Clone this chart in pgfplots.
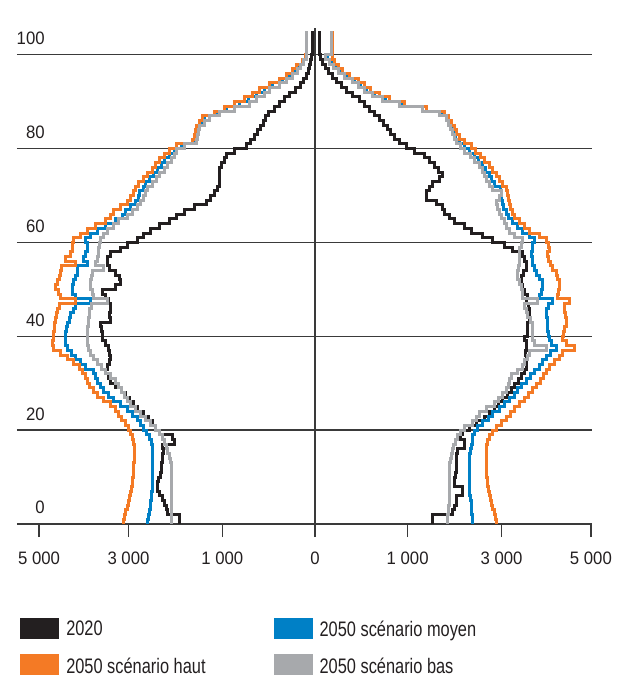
\documentclass[border=0pt]{standalone}
\usepackage{fontspec}
\setmainfont{Liberation Sans}
\newfontfamily\tickfont{Liberation Sans}[FakeStretch=0.93]
\newfontfamily\legfont{Liberation Sans}[FakeStretch=0.78]
\usepackage{pgfplots}
\usepackage{pgfplotstable}
\pgfplotsset{compat=1.18}
\definecolor{cBlack}{HTML}{231F20}
\definecolor{cOrange}{HTML}{F47A25}
\definecolor{cBlue}{HTML}{0080C6}
\definecolor{cGray}{HTML}{A7A9AC}
\definecolor{axisgray}{HTML}{3A3A3A}

% population by age; columns in pixel-offset units of the chart (1 unit = 18.12 persons)
\pgfplotstableread{
age bl br ol or ml mr gl gr
0 135 118 192 182 168 158 143 133
1 135 118 191 181 167 158 143 133
2 147 138 190 180 166 157 143 134
3 148 140 188 178 165 157 143 134
4 150 142 187 177 165 157 143 135
5 152 142 186 176 164 156 143 135
6 155 148 185 175 164 155 143 135
7 157 148 184 174 163 155 143 135
8 157 140 183 173 163 155 143 135
9 156 140 183 173 163 155 143 135
10 154 141 182 172 163 155 143 135
11 153 142 182 172 163 155 143 135
12 153 142 182 172 163 155 143 135
13 152 142 181 172 163 155 144 136
14 152 142 181 172 163 155 145 137
15 151 143 181 172 163 156 147 138
16 152 150 181 172 163 157 148 139
17 140 150 182 173 164 158 150 141
18 142 146 183 175 166 158 152 143
19 155 148 185 178 169 160 155 146
20 160 155 187 182 172 163 160 150
21 163 162 190 187 175 168 165 158
22 167 170 194 192 178 174 170 162
23 172 175 197 196 183 178 175 165
24 178 180 200 200 188 185 180 172
25 182 184 205 205 195 190 185 180
26 186 188 212 210 202 195 188 184
27 190 193 218 214 207 200 191 188
28 194 197 222 218 212 203 194 192
29 200 200 226 222 215 207 197 194
30 205 204 228 226 218 212 200 195
31 207 207 230 229 220 216 205 197
32 210 210 233 232 222 220 210 203
33 208 212 236 235 230 225 214 208
34 206 212 242 240 235 228 218 210
35 205 212 248 245 240 232 222 213
36 206 211 255 248 244 236 225 215
37 207 212 262 260 248 242 227 232
38 210 212 263 252 250 237 228 220
39 213 210 262 248 250 235 228 218
40 213 213 262 249 250 234 228 218
41 214 213 261 250 249 233 228 218
42 215 213 261 252 248 233 227 218
43 205 215 260 252 246 233 227 216
44 206 215 259 251 245 232 226 213
45 205 215 258 250 242 232 226 212
46 205 214 256 250 240 234 224 210
47 207 212 240 255 225 238 208 223
48 210 213 255 243 240 225 222 208
49 213 210 257 244 243 227 223 208
50 200 208 260 245 243 228 225 207
51 195 207 258 245 242 228 225 205
52 196 207 256 243 240 225 224 203
53 200 209 255 242 238 222 223 203
54 206 212 254 238 238 220 212 204
55 208 212 240 236 228 218 220 205
56 208 210 250 234 232 218 218 205
57 205 208 245 233 230 217 217 205
58 195 198 243 235 228 218 217 205
59 188 190 243 234 228 218 216 207
60 178 178 242 232 230 220 215 208
61 172 168 235 225 225 215 212 200
62 165 157 228 215 218 208 208 195
63 155 150 220 210 210 203 202 192
64 145 140 210 205 200 198 197 190
65 138 135 205 200 193 194 188 187
66 130 130 202 198 190 192 183 185
67 120 128 195 196 185 189 178 183
68 108 122 188 195 180 188 175 182
69 104 112 185 194 177 187 172 185
70 100 112 182 193 176 187 170 187
71 97 115 180 192 172 186 168 178
72 95 118 177 188 170 180 163 175
73 95 125 172 185 166 177 158 172
74 95 128 168 182 162 175 155 170
75 95 124 163 178 157 171 150 168
76 93 120 160 175 153 168 147 165
77 90 115 155 170 150 164 143 160
78 88 110 150 166 145 160 140 156
79 80 100 145 161 140 155 138 150
80 68 92 138 157 133 150 130 146
81 64 85 122 150 120 145 118 142
82 60 80 120 145 118 141 117 140
83 57 76 119 142 117 139 116 138
84 54 73 118 140 116 137 115 136
85 51 69 115 137 113 134 110 134
86 49 65 112 134 110 132 105 132
87 46 60 100 130 98 128 95 125
88 40 55 90 112 88 108 80 108
89 35 50 80 90 75 87 65 85
90 30 45 70 75 66 71 58 68
91 25 38 62 65 58 60 50 58
92 19 32 55 56 50 52 45 50
93 14 27 45 50 42 46 35 44
94 11 22 35 44 32 40 28 38
95 8 18 28 35 25 32 22 30
96 6 14 22 28 20 25 17 24
97 5 11 18 24 15 21 14 19
98 4 8 12 20 11 17 11 15
99 3 6 9 18 8 13 8 11
100 2 5 8 18 8 17 8 17
101 2 5 8 18 8 17 8 17
102 2 5 8 18 8 17 8 17
103 2 5 8 18 8 17 8 17
104 2 5 8 18 8 17 8 17
}\pyr

% turn one column into a vertical step outline: (v,a) (v,a+1) for each age a
\newcommand\buildsteps[3]{%
  \gdef\stepcoords{}%
  \pgfplotstablegetrowsof{\pyr}%
  \pgfmathtruncatemacro\lastrow{\pgfplotsretval-1}%
  \foreach \r in {0,...,\lastrow}{%
    \pgfplotstablegetelem{\r}{#2}\of{\pyr}%
    \pgfmathsetmacro\xv{#3*18.12*\pgfplotsretval}%
    \pgfmathtruncatemacro\yb{\r+1}%
    \xdef\stepcoords{\stepcoords (\xv,\r) (\xv,\yb)}%
  }%
  \expandafter\xdef\csname S#1\endcsname{\stepcoords}%
}

\begin{document}
\begin{tikzpicture}
\buildsteps{BL}{bl}{-1}\buildsteps{BR}{br}{1}
\buildsteps{OL}{ol}{-1}\buildsteps{OR}{or}{1}
\buildsteps{ML}{ml}{-1}\buildsteps{MR}{mr}{1}
\buildsteps{GL}{gl}{-1}\buildsteps{GR}{gr}{1}
\useasboundingbox (0,0) rectangle (308.5pt,340pt);
\begin{axis}[
  at={(8.5pt,78pt)}, anchor=south west,
  scale only axis, width=287.5pt, height=248pt,
  xmin=-5400, xmax=5020, ymin=0, ymax=105.7,
  axis x line*=bottom, axis y line*=left,
  y axis line style={draw=none},
  x axis line style={line width=0.75pt, draw=axisgray},
  xtick={-5000,-3380,-1680,0,1680,3380,5000},
  xticklabels={5~000,3~000,1~000,0,1~000,3~000,5~000},
  xtick align=outside, major tick length=6.5pt,
  x tick style={line width=0.75pt, draw=axisgray},
  xticklabel style={font=\tickfont\fontsize{9}{10}\selectfont, text=cBlack, yshift=-4pt},
  ytick={20,40,60,80,100}, yticklabels={},
  ymajorgrids, major grid style={line width=0.75pt, draw=axisgray},
  y tick style={draw=none},
  clip=false, no markers,
  every axis plot/.append style={line width=1.5pt, line join=miter},
  legend columns=2,
  legend cell align=left,
  legend image code/.code={\fill[#1] (0pt,-3.5pt) rectangle (18pt,5.5pt);},
  legend style={at={(0.005,-0.188)}, anchor=north west, draw=none, fill=none,
    inner sep=0pt, font=\legfont\fontsize{10.5}{12}\selectfont, text=cBlack,
    row sep=7.5pt, nodes={inner sep=0pt},
    /tikz/every odd column/.append style={column sep=3.5pt},
    /tikz/every even column/.append style={column sep=34pt}},
]
\addplot[axisgray, line width=0.75pt, forget plot] coordinates {(0,0) (0,105.7)};
\edef\tmp{\noexpand\addplot[cBlack] coordinates {\SBL};}\tmp
\addlegendentry{2020}
\edef\tmp{\noexpand\addplot[cBlack, forget plot] coordinates {\SBR};}\tmp
\edef\tmp{\noexpand\addplot[cBlue] coordinates {\SML};}\tmp
\addlegendentry{2050 scénario moyen}
\edef\tmp{\noexpand\addplot[cBlue, forget plot] coordinates {\SMR};}\tmp
\edef\tmp{\noexpand\addplot[cOrange] coordinates {\SOL};}\tmp
\addlegendentry{2050 scénario haut}
\edef\tmp{\noexpand\addplot[cOrange, forget plot] coordinates {\SOR};}\tmp
\edef\tmp{\noexpand\addplot[cGray] coordinates {\SGL};}\tmp
\addlegendentry{2050 scénario bas}
\edef\tmp{\noexpand\addplot[cGray, forget plot] coordinates {\SGR};}\tmp
\node[anchor=base east, inner sep=0pt, yshift=5pt, font=\tickfont\fontsize{9}{10}\selectfont, text=cBlack] at (axis cs:-4892,100) {100};
\node[anchor=base east, inner sep=0pt, yshift=5pt, font=\tickfont\fontsize{9}{10}\selectfont, text=cBlack] at (axis cs:-4892,80) {80};
\node[anchor=base east, inner sep=0pt, yshift=5pt, font=\tickfont\fontsize{9}{10}\selectfont, text=cBlack] at (axis cs:-4892,60) {60};
\node[anchor=base east, inner sep=0pt, yshift=5pt, font=\tickfont\fontsize{9}{10}\selectfont, text=cBlack] at (axis cs:-4892,40) {40};
\node[anchor=base east, inner sep=0pt, yshift=5pt, font=\tickfont\fontsize{9}{10}\selectfont, text=cBlack] at (axis cs:-4892,20) {20};
\node[anchor=base east, inner sep=0pt, yshift=5pt, font=\tickfont\fontsize{9}{10}\selectfont, text=cBlack] at (axis cs:-4892,0) {0};
\end{axis}
\end{tikzpicture}
\end{document}
